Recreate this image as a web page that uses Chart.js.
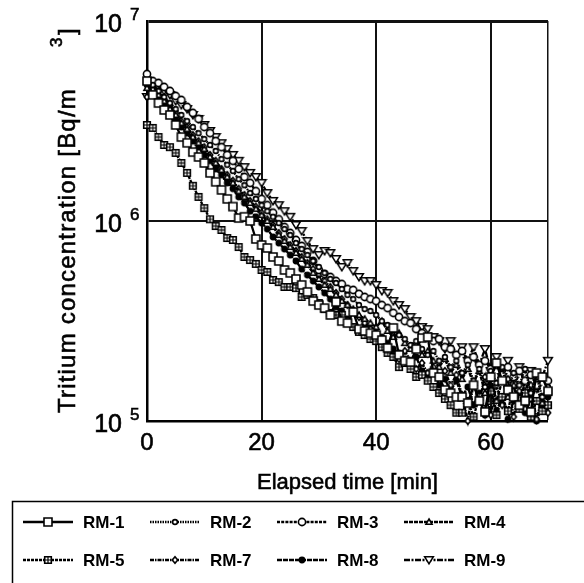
<!DOCTYPE html>
<html>
<head>
<meta charset="utf-8">
<script src="https://cdn.jsdelivr.net/npm/chart.js@4.4.1/dist/chart.umd.min.js"></script>
<style>
    body { margin: 0; background: #fff; }
    canvas { display: block; }
</style>
</head>
<body>
<canvas id="tritiumChart" width="584" height="583"></canvas>
<script>

// Elapsed time [min], one reading per minute
let times = [0,1,2,3,4,5,6,7,8,9,10,11,12,13,14,15,16,17,18,19,20,21,22,23,24,25,26,27,28,29,30,
    31,32,33,34,35,36,37,38,39,40,41,42,43,44,45,46,47,48,49,50,51,52,53,54,55,56,57,58,59,60,
    61,62,63,64,65,66,67,68,69,70];

// Tritium concentration [Bq/m3] per monitor
let rm1 = [5.01e6,4.27e6,3.89e6,3.59e6,3.39e6,3.02e6,2.63e6,2.46e6,2.21e6,2.09e6,
    1.95e6,1.74e6,1.57e6,1.43e6,1.29e6,1.18e6,1.035e6,1.05e6,1.00e6,8.13e5,
    7.59e5,7.33e5,6.61e5,6.31e5,5.69e5,5.50e5,5.13e5,4.79e5,4.42e5,3.98e5,
    3.80e5,3.67e5,3.39e5,3.94e5,3.16e5,3.09e5,3.51e5,2.88e5,2.82e5,2.75e5,
    2.69e5,2.54e5,2.32e5,2.92e5,2.14e5,2.00e5,1.97e5,2.29e5,2.60e5,2.63e5,
    1.74e5,1.66e5,1.43e5,1.38e5,1.32e5,1.32e5,1.23e5,1.51e5,1.26e5,1.11e5,
    1.66e5,1.95e5,1.59e5,1.43e5,1.32e5,1.20e5,1.26e5,1.11e5,1.74e5,1.66e5,
    1.41e5];
let rm2 = [5.01e6,4.79e6,4.47e6,4.17e6,3.89e6,3.63e6,3.39e6,3.16e6,2.95e6,2.75e6,
    2.57e6,2.40e6,2.24e6,2.04e6,1.91e6,1.78e6,1.62e6,1.51e6,1.38e6,1.29e6,
    1.20e6,1.12e6,1.05e6,9.77e5,9.12e5,8.51e5,7.76e5,7.24e5,6.76e5,6.31e5,
    5.89e5,5.50e5,5.13e5,4.90e5,4.57e5,4.27e5,4.07e5,3.80e5,3.63e5,3.55e5,
    3.39e5,3.16e5,3.02e5,2.88e5,2.69e5,2.57e5,2.40e5,2.51e5,2.29e5,2.14e5,
    2.24e5,2.00e5,2.09e5,1.86e5,2.00e5,1.74e5,1.91e5,1.59e5,1.82e5,1.48e5,
    1.78e5,1.55e5,1.86e5,1.41e5,1.74e5,1.51e5,1.82e5,1.38e5,1.66e5,1.32e5,
    1.48e5];
let rm3 = [5.43e6,5.01e6,4.90e6,4.68e6,4.47e6,4.22e6,4.03e6,3.72e6,3.47e6,3.24e6,
    2.95e6,2.75e6,2.51e6,2.34e6,2.14e6,2.00e6,1.82e6,1.66e6,1.55e6,1.41e6,
    1.29e6,1.20e6,1.10e6,1.02e6,9.33e5,8.71e5,8.04e5,7.50e5,7.00e5,6.31e5,
    5.69e5,5.43e5,5.25e5,5.01e5,4.84e5,4.57e5,4.52e5,4.32e5,4.17e5,4.07e5,
    3.98e5,3.80e5,3.67e5,3.47e5,3.31e5,3.16e5,3.09e5,2.88e5,2.75e5,2.63e5,
    2.51e5,2.57e5,2.34e5,2.29e5,2.14e5,2.24e5,2.00e5,2.09e5,1.91e5,2.00e5,
    1.82e5,1.91e5,1.70e5,1.86e5,1.66e5,1.78e5,1.59e5,1.70e5,1.51e5,1.66e5,
    1.59e5];
let rm4 = [4.62e6,4.57e6,4.27e6,3.98e6,3.63e6,3.39e6,3.09e6,2.88e6,2.63e6,2.46e6,
    2.29e6,2.09e6,1.95e6,1.80e6,1.66e6,1.55e6,1.41e6,1.32e6,1.23e6,1.15e6,
    1.07e6,1.00e6,9.33e5,8.51e5,7.94e5,7.41e5,6.92e5,6.46e5,6.03e5,5.50e5,
    5.13e5,4.79e5,4.57e5,4.27e5,3.98e5,3.80e5,3.63e5,3.39e5,3.24e5,3.09e5,
    2.95e5,3.16e5,2.82e5,2.63e5,2.75e5,2.45e5,2.29e5,2.40e5,2.14e5,2.24e5,
    2.00e5,1.86e5,2.04e5,1.74e5,1.91e5,1.62e5,1.82e5,1.55e5,1.78e5,1.38e5,
    1.66e5,1.26e5,1.59e5,1.32e5,1.51e5,1.20e5,1.59e5,1.29e5,1.48e5,1.23e5,
    1.38e5];
let rm5 = [3.02e6,2.92e6,2.63e6,2.40e6,2.34e6,2.19e6,1.95e6,1.74e6,1.50e6,1.32e6,
    1.16e6,1.02e6,9.44e5,9.02e5,8.22e5,8.04e5,7.41e5,6.61e5,6.38e5,6.10e5,
    5.69e5,5.56e5,5.07e5,4.95e5,4.68e5,4.68e5,4.62e5,4.17e5,4.27e5,4.12e5,
    3.89e5,3.63e5,3.47e5,3.39e5,3.39e5,3.16e5,2.95e5,2.79e5,2.69e5,2.57e5,
    2.51e5,2.34e5,2.19e5,2.09e5,1.86e5,1.95e5,1.82e5,1.66e5,1.70e5,1.59e5,
    1.48e5,1.38e5,1.29e5,1.20e5,1.10e5,1.10e5,1.26e5,1.05e5,1.32e5,1.15e5,
    1.41e5,1.07e5,1.32e5,1.12e5,1.51e5,1.15e5,1.38e5,1.05e5,1.26e5,1.12e5,
    1.20e5];
let rm7 = [4.17e6,4.68e6,4.47e6,4.07e6,3.80e6,3.47e6,3.16e6,2.95e6,2.69e6,2.51e6,
    2.34e6,2.14e6,2.00e6,1.82e6,1.70e6,1.59e6,1.45e6,1.35e6,1.26e6,1.18e6,
    1.10e6,1.02e6,9.55e5,8.71e5,8.13e5,7.59e5,7.08e5,6.61e5,6.17e5,5.75e5,
    5.37e5,5.01e5,4.68e5,4.37e5,4.07e5,3.80e5,3.55e5,3.31e5,3.09e5,2.88e5,
    2.69e5,2.40e5,2.29e5,2.14e5,2.04e5,2.24e5,2.00e5,1.82e5,1.95e5,1.74e5,
    1.86e5,1.66e5,1.78e5,1.51e5,1.70e5,1.35e5,1.00e5,1.55e5,1.26e5,1.66e5,
    1.07e5,1.51e5,1.20e5,1.62e5,1.05e5,1.41e5,1.15e5,1.51e5,1.02e5,1.32e5,
    1.10e5];
let rm8 = [4.79e6,4.57e6,4.17e6,3.80e6,3.55e6,3.24e6,2.95e6,2.75e6,2.51e6,2.34e6,
    2.14e6,2.00e6,1.82e6,1.70e6,1.55e6,1.45e6,1.32e6,1.23e6,1.12e6,1.05e6,
    9.77e5,9.12e5,8.32e5,7.76e5,7.24e5,6.76e5,6.31e5,5.75e5,5.37e5,5.01e5,
    4.68e5,4.37e5,4.07e5,3.72e5,3.55e5,3.24e5,2.95e5,2.79e5,3.02e5,2.88e5,
    2.75e5,2.63e5,2.45e5,2.29e5,2.19e5,2.04e5,1.91e5,2.09e5,1.78e5,1.66e5,
    1.82e5,1.51e5,1.62e5,1.41e5,1.59e5,1.32e5,1.48e5,1.20e5,1.38e5,1.07e5,
    1.45e5,1.12e5,1.32e5,1.02e5,1.26e5,1.38e5,1.10e5,1.29e5,1.00e5,1.20e5,
    1.32e5];
let rm9 = [4.17e6,4.79e6,4.68e6,4.47e6,4.27e6,3.98e6,3.80e6,3.63e6,3.39e6,3.24e6,
    3.02e6,2.82e6,2.63e6,2.45e6,2.29e6,2.14e6,2.00e6,1.86e6,1.74e6,1.66e6,
    1.55e6,1.38e6,1.26e6,1.20e6,1.12e6,1.05e6,9.55e5,8.91e5,7.94e5,7.24e5,
    6.76e5,7.08e5,6.92e5,6.46e5,5.89e5,6.17e5,5.62e5,5.25e5,5.01e5,5.01e5,
    4.79e5,4.47e5,4.37e5,3.98e5,3.80e5,3.63e5,3.31e5,3.16e5,2.95e5,2.88e5,
    2.63e5,2.51e5,2.29e5,2.51e5,2.14e5,2.34e5,2.00e5,2.34e5,1.91e5,2.29e5,
    1.78e5,2.09e5,1.66e5,2.00e5,1.59e5,1.86e5,1.51e5,1.78e5,1.45e5,1.66e5,
    2.00e5];

let seriesNames = ["RM-1","RM-2","RM-3","RM-4","RM-5","RM-7","RM-8","RM-9"];
let seriesValues = [rm1, rm2, rm3, rm4, rm5, rm7, rm8, rm9];

// Axis ticks
let xTicks = [0, 20, 40, 60];
let yTicks = [1e5, 1e6, 1e7];

const FONT = '"Liberation Sans", Arial, sans-serif';

// Small marker images, drawn once and used as point styles
function makeMarker(kind) {
    const c = document.createElement("canvas");
    c.width = 12;
    c.height = 12;
    const g = c.getContext("2d");
    const m = 6;
    g.strokeStyle = "#000";
    g.fillStyle = "#fff";
    g.lineWidth = 1.6;
    g.beginPath();
    if (kind == "square") {
        g.rect(m - 4, m - 4, 8, 8);
    } else if (kind == "circle") {
        g.arc(m, m, 3.6, 0, Math.PI * 2);
    } else if (kind == "smallCircle") {
        g.arc(m, m, 2.4, 0, Math.PI * 2);
    } else if (kind == "smallTriangle") {
        g.moveTo(m, m - 3);
        g.lineTo(m + 3, m + 2.2);
        g.lineTo(m - 3, m + 2.2);
        g.closePath();
    } else if (kind == "crossSquare") {
        g.rect(m - 3.3, m - 3.3, 6.6, 6.6);
    } else if (kind == "smallDiamond") {
        g.moveTo(m, m - 3.2);
        g.lineTo(m + 2.7, m);
        g.lineTo(m, m + 3.2);
        g.lineTo(m - 2.7, m);
        g.closePath();
    } else if (kind == "dot") {
        g.arc(m, m, 2.6, 0, Math.PI * 2);
        g.fillStyle = "#000";
    } else if (kind == "triangleDown") {
        g.moveTo(m - 4.3, m - 3.2);
        g.lineTo(m + 4.3, m - 3.2);
        g.lineTo(m, m + 3.8);
        g.closePath();
    }
    g.fill();
    g.stroke();
    if (kind == "crossSquare") {
        g.lineWidth = 1.2;
        g.beginPath();
        g.moveTo(m, m - 3.3);
        g.lineTo(m, m + 3.3);
        g.moveTo(m - 3.3, m);
        g.lineTo(m + 3.3, m);
        g.stroke();
    }
    return c;
}

let markerKinds = ["square","smallCircle","circle","smallTriangle","crossSquare","smallDiamond","dot","triangleDown"];
let dashes = [[], [1.5, 1], [3, 1.2], [4, 1], [3, 1], [4, 1, 1.5, 1], [5, 1], [6, 1.5, 2, 1.5]];

let datasets = [];
for (let i = 0; i < seriesNames.length; i++) {
    let pts = [];
    for (let j = 0; j < times.length; j++) {
        pts.push({ x: times[j], y: seriesValues[i][j] });
    }
    datasets.push({
        label: seriesNames[i],
        data: pts,
        borderColor: "#000",
        borderWidth: 2.3,
        borderDash: dashes[i],
        pointStyle: makeMarker(markerKinds[i]),
        pointRadius: 3,
        pointHoverRadius: 3,
        tension: 0,
        clip: 8
    });
}

// Text drawn with a hairline stroke so it reads as heavy as the original
function heavyText(g, txt, x, y) {
    g.fillText(txt, x, y);
    g.strokeText(txt, x, y);
}

// Tick labels, axis titles and the boxed legend
const decorations = {
    id: "decorations",
    afterDraw(chart) {
        const g = chart.ctx;
        const xScale = chart.scales.x;
        const yScale = chart.scales.y;
        const area = chart.chartArea;
        g.save();
        g.fillStyle = "#000";
        g.strokeStyle = "#000";
        g.lineWidth = 0.6;

        // x tick labels
        g.font = "24px " + FONT;
        g.textAlign = "center";
        g.textBaseline = "middle";
        xTicks.forEach(v => {
            heavyText(g, String(v), xScale.getPixelForValue(v), area.bottom + 22);
        });

        // y tick labels as 10 with a raised exponent
        yTicks.forEach(v => {
            const py = yScale.getPixelForValue(v);
            g.font = "25px " + FONT;
            g.textAlign = "right";
            g.textBaseline = "middle";
            heavyText(g, "10", 122, py + 4);
            g.font = "17px " + FONT;
            g.textAlign = "left";
            heavyText(g, String(Math.round(Math.log10(v))), 130, py - 6);
        });

        // x title
        g.font = "22px " + FONT;
        g.textAlign = "center";
        g.textBaseline = "middle";
        heavyText(g, "Elapsed time [min]", (area.left + area.right) / 2, 483);

        // y title, rotated, with the superscript far up the axis
        g.save();
        g.translate(68, 413);
        g.rotate(-Math.PI / 2);
        g.font = "24px " + FONT;
        g.letterSpacing = "1.2px";
        g.textAlign = "left";
        heavyText(g, "Tritium concentration [Bq/m", 0, 0);
        g.letterSpacing = "0px";
        heavyText(g, "]", 378, 0);
        g.font = "17px " + FONT;
        heavyText(g, "3", 366, -11);
        g.restore();

        // legend box
        g.lineWidth = 1.5;
        g.strokeRect(12.5, 501.5, 620, 120);
        chart.data.datasets.forEach((ds, i) => {
            const col = i % 4;
            const row = Math.floor(i / 4);
            const x0 = 23 + col * 127;
            const yy = 522 + row * 38;
            g.lineWidth = 2.5;
            g.setLineDash(ds.borderDash);
            g.beginPath();
            g.moveTo(x0, yy);
            g.lineTo(x0 + 50, yy);
            g.stroke();
            g.setLineDash([]);
            const img = ds.pointStyle;
            g.drawImage(img, x0 + 25 - img.width / 2, yy - img.height / 2);
            g.font = "bold 17px " + FONT;
            g.textAlign = "left";
            g.textBaseline = "middle";
            g.fillText(ds.label, x0 + 60, yy + 1);
        });
        g.restore();
    }
};

new Chart(document.getElementById("tritiumChart"), {
    type: "line",
    data: { datasets: datasets },
    options: {
        responsive: false,
        animation: false,
        events: [],
        layout: { padding: { top: 21, right: 36, left: 0, bottom: 0 } },
        plugins: {
            legend: { display: false },
            tooltip: { enabled: false }
        },
        scales: {
            x: {
                type: "linear",
                min: 0,
                max: 70,
                afterBuildTicks: s => { s.ticks = xTicks.concat([70]).map(v => ({ value: v })); },
                ticks: { display: false },
                grid: {
                    color: "#111",
                    drawTicks: false,
                    lineWidth: c => (c.tick && c.tick.value == 0 ? 0 : (c.tick && c.tick.value == 70 ? 1.5 : 2))
                },
                border: { display: true, color: "#000", width: 2.5 },
                afterFit: s => { s.height = 162; }
            },
            y: {
                type: "logarithmic",
                min: 1e5,
                max: 1e7,
                afterBuildTicks: s => { s.ticks = yTicks.map(v => ({ value: v })); },
                ticks: { display: false },
                grid: {
                    color: "#111",
                    drawTicks: false,
                    lineWidth: c => (c.tick && c.tick.value == 1e7 ? 3 : (c.tick && c.tick.value == 1e5 ? 0 : 2))
                },
                border: { display: true, color: "#000", width: 2.5 },
                afterFit: s => { s.width = 147; }
            }
        }
    },
    plugins: [decorations]
});
</script>
</body>
</html>
